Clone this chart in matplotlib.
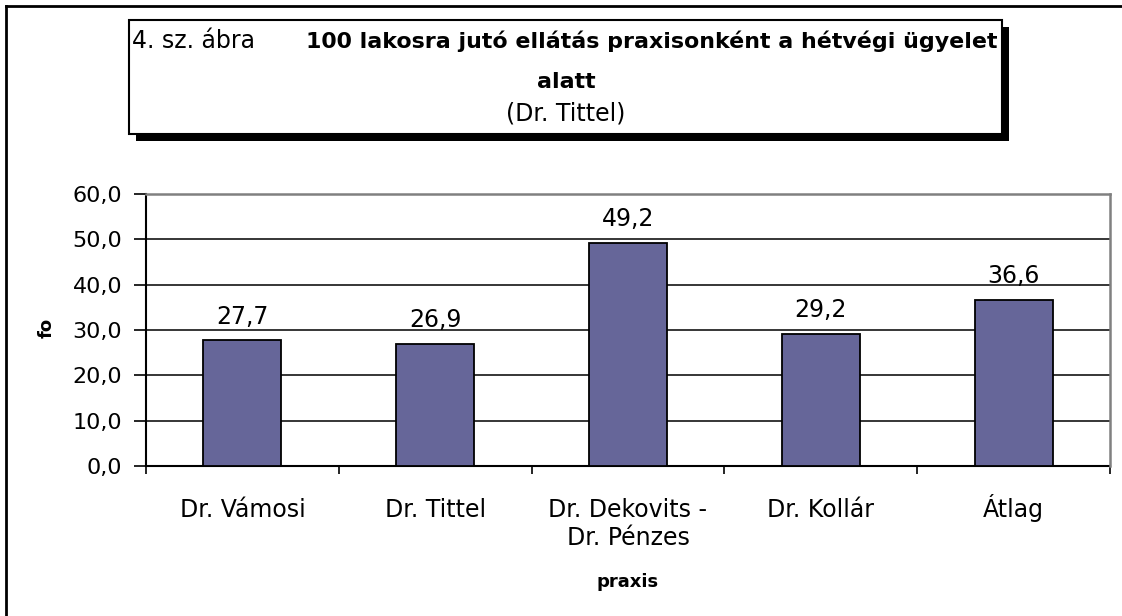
import matplotlib
matplotlib.use("Agg")
import matplotlib.pyplot as plt
from matplotlib.patches import Rectangle
from matplotlib.lines import Line2D
from matplotlib.ticker import FuncFormatter
from matplotlib.transforms import ScaledTranslation

# ---- data ----
categories = ["Dr. Vámosi", "Dr. Tittel", "Dr. Dekovits -\nDr. Pénzes", "Dr. Kollár", "Átlag"]
values = [27.7, 26.9, 49.2, 29.2, 36.6]
y_ticks = [0, 10, 20, 30, 40, 50, 60]
fig_label = "4. sz. ábra"
title_line1 = "100 lakosra jutó ellátás praxisonként a hétvégi ügyelet"
title_line2 = "alatt"
title_sub = "(Dr. Tittel)"
x_label = "praxis"
y_label = "fo"

W, H = 1122, 616
fig = plt.figure(figsize=(W / 100, H / 100), dpi=100)
fig.patch.set_facecolor("white")


def fx(x):
    return x / W


def fy(y):
    return 1 - y / H


# plot area
L, R, T, B = 146, 1110, 194, 466
ax = fig.add_axes([fx(L), fy(B), fx(R - L), (B - T) / H])

bar_color = "#666699"
xpos = list(range(len(categories)))
ax.bar(xpos, values, width=0.405, color=bar_color, edgecolor="black",
       linewidth=1.3, zorder=3)

fmt = lambda v: f"{v:.1f}".replace(".", ",")
for x, v in zip(xpos, values):
    ax.annotate(fmt(v), (x, v), xytext=(0, 12), textcoords="offset points",
                ha="center", va="baseline", fontsize=17, zorder=4)

ax.set_xlim(-0.5, len(categories) - 0.5)
ax.set_ylim(y_ticks[0], y_ticks[-1])
ax.set_yticks(y_ticks)
ax.yaxis.set_major_formatter(FuncFormatter(lambda v, p: fmt(v)))
ax.tick_params(axis="y", length=8.6, width=1.2, pad=8.6, labelsize=16,
               direction="out", colors="black")

# category ticks at boundaries, labels at centers
ax.set_xticks([i + 0.5 for i in range(-1, len(categories))])
ax.set_xticklabels([])
ax.set_xticks(xpos, minor=True)
ax.set_xticklabels(categories, minor=True, fontsize=17)
ax.tick_params(axis="x", which="major", length=5.8, width=1.2, direction="out")
ax.tick_params(axis="x", which="minor", length=0, pad=23)

# keep baselines aligned for labels with a tall accented capital
for tick in ax.xaxis.get_minor_ticks():
    lbl = tick.label1
    if lbl.get_text()[:1] in "ÁÉÍÓÖŐÚÜŰ":
        lbl.set_transform(lbl.get_transform() +
                          ScaledTranslation(0, 3.0 / 72, fig.dpi_scale_trans))

ax.set_axisbelow(True)
ax.yaxis.grid(True, color="black", linewidth=1.1)
ax.xaxis.grid(False)

for s in ["left", "bottom"]:
    ax.spines[s].set_color("black")
    ax.spines[s].set_linewidth(1.5)
for s in ["top", "right"]:
    ax.spines[s].set_color("#808080")
    ax.spines[s].set_linewidth(1.8)
    ax.spines[s].set_zorder(5)

ax.set_xlabel(x_label, fontsize=13, fontweight="bold", va="center")
ax.xaxis.set_label_coords(0.5, (B - 582) / (B - T))
ax.set_ylabel(y_label, fontsize=13, fontweight="bold", va="center", ha="center")
ax.yaxis.set_label_coords((46.5 - L) / (R - L), (B - 328) / (B - T))

# outer frame (left and top edges)
fig.add_artist(Line2D([fx(6), fx(6)], [fy(6), fy(H)], color="black", linewidth=2,
                      transform=fig.transFigure))
fig.add_artist(Line2D([fx(6), fx(W)], [fy(6), fy(6)], color="black", linewidth=2,
                      transform=fig.transFigure))

# title box with shadow
bx0, by0, bx1, by1 = 129, 20, 1002, 134
sh = 7
fig.add_artist(Rectangle((fx(bx0 + sh), fy(by1 + sh)), fx(bx1 - bx0), (by1 - by0) / H,
                         transform=fig.transFigure, facecolor="black",
                         edgecolor="black", linewidth=0, zorder=1))
fig.add_artist(Rectangle((fx(bx0), fy(by1)), fx(bx1 - bx0), (by1 - by0) / H,
                         transform=fig.transFigure, facecolor="white",
                         edgecolor="black", linewidth=1.5, zorder=2))

fig.text(fx(132), fy(48), fig_label, fontsize=17, ha="left", va="baseline", zorder=3)
fig.text(fx(997), fy(48), title_line1, fontsize=15.9, fontweight="bold",
         ha="right", va="baseline", zorder=3)
fig.text(fx(566), fy(88), title_line2, fontsize=15.9, fontweight="bold",
         ha="center", va="baseline", zorder=3)
fig.text(fx(566), fy(120), title_sub, fontsize=17, ha="center", va="baseline", zorder=3)

fig.savefig("out.png", dpi=100)
